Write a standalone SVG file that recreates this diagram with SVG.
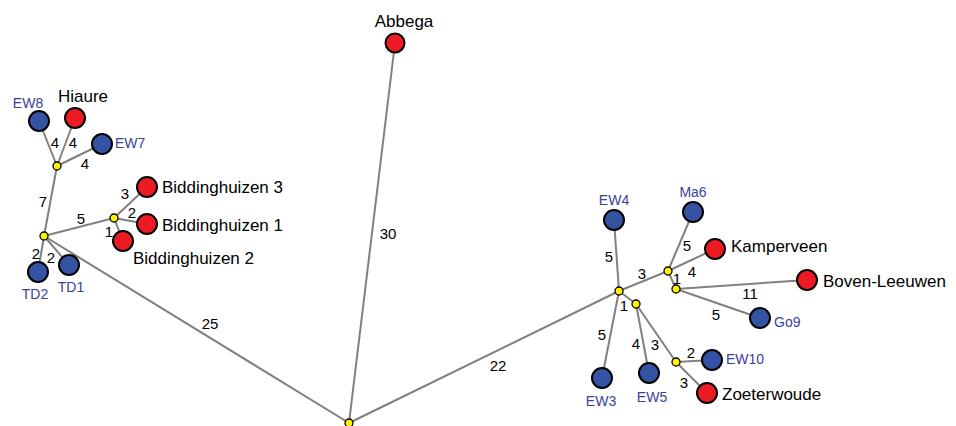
<svg xmlns="http://www.w3.org/2000/svg" width="956" height="426" viewBox="0 0 956 426">
<style>
.e{stroke:#808080;stroke-width:2;fill:none}
.r{fill:#ED1C24;stroke:#000;stroke-width:2}
.b{fill:#3453A3;stroke:#000;stroke-width:2}
.j{fill:#FFF200;stroke:#000;stroke-width:1.3}
text{font-family:"Liberation Sans",Arial,sans-serif}
.tk{font-size:17px;fill:#000}
.tb{font-size:14px;fill:#3A4199}
.el{font-size:15px;fill:#000;text-anchor:middle;dominant-baseline:central}
</style>
<rect width="956" height="426" fill="#fff"/>
<g id="connectors">
<line class="e" x1="349" y1="423" x2="44" y2="236"/>
<line class="e" x1="349" y1="423" x2="395" y2="43"/>
<line class="e" x1="349" y1="423" x2="619" y2="291"/>
<line class="e" x1="44" y1="236" x2="57" y2="166"/>
<line class="e" x1="44" y1="236" x2="114" y2="218"/>
<line class="e" x1="44" y1="236" x2="38" y2="272"/>
<line class="e" x1="44" y1="236" x2="69" y2="265"/>
<line class="e" x1="57" y1="166" x2="39" y2="121"/>
<line class="e" x1="57" y1="166" x2="75" y2="118"/>
<line class="e" x1="57" y1="166" x2="102" y2="144"/>
<line class="e" x1="114" y1="218" x2="147" y2="187"/>
<line class="e" x1="114" y1="218" x2="147" y2="224"/>
<line class="e" x1="114" y1="218" x2="123" y2="241"/>
<line class="e" x1="619" y1="291" x2="668" y2="271"/>
<line class="e" x1="619" y1="291" x2="636" y2="304"/>
<line class="e" x1="619" y1="291" x2="614" y2="220"/>
<line class="e" x1="619" y1="291" x2="602" y2="378"/>
<line class="e" x1="668" y1="271" x2="693" y2="212"/>
<line class="e" x1="668" y1="271" x2="715" y2="249"/>
<line class="e" x1="668" y1="271" x2="676" y2="289"/>
<line class="e" x1="676" y1="289" x2="807" y2="280"/>
<line class="e" x1="676" y1="289" x2="760" y2="318"/>
<line class="e" x1="636" y1="304" x2="649" y2="373"/>
<line class="e" x1="636" y1="304" x2="676" y2="362"/>
<line class="e" x1="676" y1="362" x2="712" y2="360"/>
<line class="e" x1="676" y1="362" x2="707" y2="393"/>
<text class="el" x="210" y="323">25</text>
<text class="el" x="388" y="233">30</text>
<text class="el" x="498" y="365">22</text>
<text class="el" x="55" y="142">4</text>
<text class="el" x="73" y="142">4</text>
<text class="el" x="85" y="163">4</text>
<text class="el" x="43" y="201">7</text>
<text class="el" x="81" y="218">5</text>
<text class="el" x="125" y="193">3</text>
<text class="el" x="132" y="212">2</text>
<text class="el" x="109" y="231">1</text>
<text class="el" x="36" y="253">2</text>
<text class="el" x="51" y="257">2</text>
<text class="el" x="609" y="256">5</text>
<text class="el" x="687" y="245">5</text>
<text class="el" x="642" y="273">3</text>
<text class="el" x="692" y="271">4</text>
<text class="el" x="677" y="278">1</text>
<text class="el" x="750" y="293">11</text>
<text class="el" x="716" y="314">5</text>
<text class="el" x="624" y="305">1</text>
<text class="el" x="602" y="334">5</text>
<text class="el" x="636" y="343">4</text>
<text class="el" x="655" y="344">3</text>
<text class="el" x="691" y="352">2</text>
<text class="el" x="684" y="382">3</text>
</g>
<g id="root"><circle class="j" cx="349" cy="423" r="4"/></g>
<g id="jL"><circle class="j" cx="44" cy="236" r="4"/></g>
<g id="jLU"><circle class="j" cx="57" cy="166" r="4"/></g>
<g id="jB"><circle class="j" cx="114" cy="218" r="4"/></g>
<g id="jR"><circle class="j" cx="619" cy="291" r="4"/></g>
<g id="jR2"><circle class="j" cx="668" cy="271" r="4"/></g>
<g id="jR3"><circle class="j" cx="676" cy="289" r="4"/></g>
<g id="jR4"><circle class="j" cx="636" cy="304" r="4"/></g>
<g id="jR5"><circle class="j" cx="676" cy="362" r="4"/></g>
<g id="abbega"><circle class="r" cx="395" cy="43" r="9.5"/><text class="tk" x="404" y="27" text-anchor="middle">Abbega</text></g>
<g id="ew8"><circle class="b" cx="39" cy="121" r="10"/><text class="tb" x="28" y="108" text-anchor="middle">EW8</text></g>
<g id="hiaure"><circle class="r" cx="75" cy="118" r="10"/><text class="tk" x="58" y="102">Hiaure</text></g>
<g id="ew7"><circle class="b" cx="102" cy="144" r="10"/><text class="tb" x="115" y="148">EW7</text></g>
<g id="b3"><circle class="r" cx="147" cy="187" r="10"/><text class="tk" x="162" y="193">Biddinghuizen 3</text></g>
<g id="b1"><circle class="r" cx="147" cy="224" r="10"/><text class="tk" x="162" y="231">Biddinghuizen 1</text></g>
<g id="b2"><circle class="r" cx="123" cy="241" r="10"/><text class="tk" x="133" y="264">Biddinghuizen 2</text></g>
<g id="td2"><circle class="b" cx="38" cy="272" r="10"/><text class="tb" x="35" y="299" text-anchor="middle">TD2</text></g>
<g id="td1"><circle class="b" cx="69" cy="265" r="10"/><text class="tb" x="71" y="292" text-anchor="middle">TD1</text></g>
<g id="ew4"><circle class="b" cx="614" cy="220" r="10"/><text class="tb" x="614" y="205" text-anchor="middle">EW4</text></g>
<g id="ma6"><circle class="b" cx="693" cy="212" r="10"/><text class="tb" x="693" y="197" text-anchor="middle">Ma6</text></g>
<g id="kamperveen"><circle class="r" cx="715" cy="249" r="10"/><text class="tk" x="731" y="252">Kamperveen</text></g>
<g id="boven"><circle class="r" cx="807" cy="280" r="10"/><text class="tk" x="823" y="287">Boven-Leeuwen</text></g>
<g id="go9"><circle class="b" cx="760" cy="318" r="10"/><text class="tb" x="774" y="327">Go9</text></g>
<g id="ew10"><circle class="b" cx="712" cy="360" r="10"/><text class="tb" x="726" y="364">EW10</text></g>
<g id="zoeterwoude"><circle class="r" cx="707" cy="393" r="10"/><text class="tk" x="722" y="400">Zoeterwoude</text></g>
<g id="ew3"><circle class="b" cx="602" cy="378" r="10"/><text class="tb" x="601" y="406" text-anchor="middle">EW3</text></g>
<g id="ew5"><circle class="b" cx="649" cy="373" r="10"/><text class="tb" x="652" y="402" text-anchor="middle">EW5</text></g>
</svg>
